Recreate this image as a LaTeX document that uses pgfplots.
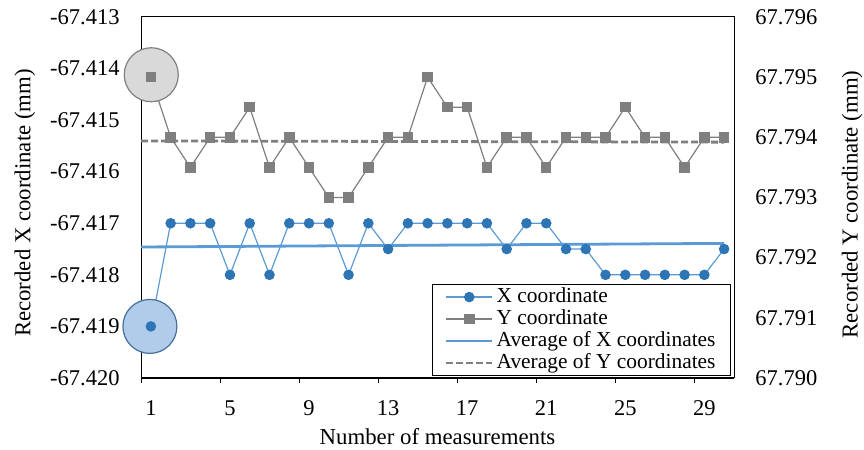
\documentclass[border=0pt]{standalone}
\usepackage{fontspec}
\setmainfont{Liberation Serif}
\usepackage{pgfplots}
\pgfplotsset{compat=1.18}
\usepackage{pgfplotstable}

\definecolor{bmark}{HTML}{2E75B6}
\definecolor{bline}{HTML}{5B9BD5}
\definecolor{gmark}{HTML}{7F7F7F}
\definecolor{gline}{HTML}{7F7F7F}
\definecolor{bcirc}{RGB}{177,204,234}
\definecolor{bcircd}{RGB}{65,113,156}
\definecolor{gcirc}{RGB}{217,217,217}
\definecolor{gcircd}{RGB}{128,128,128}

\pgfplotstableread{
n x
1 -67.419
2 -67.417
3 -67.417
4 -67.417
5 -67.418
6 -67.417
7 -67.418
8 -67.417
9 -67.417
10 -67.417
11 -67.418
12 -67.417
13 -67.4175
14 -67.417
15 -67.417
16 -67.417
17 -67.417
18 -67.417
19 -67.4175
20 -67.417
21 -67.417
22 -67.4175
23 -67.4175
24 -67.418
25 -67.418
26 -67.418
27 -67.418
28 -67.418
29 -67.418
30 -67.4175
}\xdata

\pgfplotstableread{
n y
1 67.7950
2 67.7940
3 67.7935
4 67.7940
5 67.7940
6 67.7945
7 67.7935
8 67.7940
9 67.7935
10 67.7930
11 67.7930
12 67.7935
13 67.7940
14 67.7940
15 67.7950
16 67.7945
17 67.7945
18 67.7935
19 67.7940
20 67.7940
21 67.7935
22 67.7940
23 67.7940
24 67.7940
25 67.7945
26 67.7940
27 67.7940
28 67.7935
29 67.7940
30 67.7940
}\ydata

% exact decimal shift of the y values (avoids FPU precision loss)
\newcommand\shiftval[2]{%
  \pgfmathfloatparsenumber{#1}%
  \pgfmathfloattosci{\pgfmathresult}%
  \edef\pgfmathresult{\fpeval{(\pgfmathresult-(#2))*1000}}%
}

\pgfplotsset{
  common/.style={
    set layers,
    scale only axis, width=296.5pt, height=180.5pt,
    xmin=0.5, xmax=30.5, clip=false,
    scaled y ticks=false,
    ticklabel style={font=\fontsize{11.25}{13}\selectfont},
    label style={font=\fontsize{11.4}{13}\selectfont},
    ytick style={draw=none},
  },
}

\begin{document}
\fontsize{11.25}{13}\selectfont
\begin{tikzpicture}
\begin{axis}[common,
  name=ax1,
  y coord trafo/.code={\shiftval{#1}{-67.420}},
  ymin=-67.420, ymax=-67.413,
  ytick={-67.420,-67.419,-67.418,-67.417,-67.416,-67.415,-67.414,-67.413},
  yticklabels={-67.420,-67.419,-67.418,-67.417,-67.416,-67.415,-67.414,-67.413},
  ytick pos=left,
  yticklabel style={xshift=-4.25pt},
  xtick={0.5,4.5,...,28.5},
  xticklabels={1,5,9,13,17,21,25,29},
  xticklabel style={xshift=4.94pt, yshift=-5pt},
  xtick pos=bottom, tick align=outside, major tick length=2.5pt,
  xtick style={draw=black, line width=0.5pt},
  axis line style={line width=0.5pt},
  xlabel={Number of measurements},
  xlabel style={at={(axis description cs:0.5,-0.1634)}, anchor=center},
  ylabel={Recorded X coordinate (mm)},
  ylabel style={at={(axis description cs:-0.1956,0.4848)}, anchor=center},
]
\draw[line width=1pt] (rel axis cs:0,0) -- (rel axis cs:1,0);
\addplot[on layer=axis background, only marks, mark=*, mark size=13.5pt, mark options={fill=bcirc, draw=bcircd, line width=0.6pt}, forget plot] coordinates {(0.95,-67.419)};
\addplot[bline, line width=1.4pt, forget plot] coordinates {(0.5,-67.41746) (30,-67.41739)};
\addplot[bline, line width=0.6pt, mark=*, mark size=2.33pt, mark options={fill=bmark, draw=bmark}, forget plot] table[x=n,y=x] {\xdata};
\end{axis}
\begin{axis}[common,
  y coord trafo/.code={\shiftval{#1}{67.790}},
  ymin=67.790, ymax=67.796,
  ytick={67.790,67.791,67.792,67.793,67.794,67.795,67.796},
  yticklabels={67.790,67.791,67.792,67.793,67.794,67.795,67.796},
  hide x axis,
  axis y line*=right,
  y axis line style={line width=0.5pt},
  yticklabel style={xshift=6.75pt},
  ylabel={Recorded Y coordinate (mm)},
  ylabel style={at={(axis description cs:1.199,0.4806)}, anchor=center},
  legend image code/.code={\draw[mark repeat=2,mark phase=2,#1] plot coordinates {(0pt,0pt) (11.5pt,0pt) (23pt,0pt)};},
  legend style={at={(0.995,0.2604)}, anchor=north east, draw=black, line width=0.5pt,
    font=\fontsize{10.7}{12}\selectfont, inner xsep=6pt, inner ysep=0.8pt,
    nodes={inner xsep=1.5pt, inner ysep=0.4pt, text height=7.7pt, text depth=2.5pt},
    row sep=0pt},
  legend cell align=left,
]
\addplot[on layer=axis background, only marks, mark=*, mark size=13.5pt, mark options={fill=gcirc, draw=gcircd, line width=0.6pt}, forget plot] coordinates {(1.02,67.79504)};
\addlegendimage{bline, line width=0.6pt, mark=*, mark size=2.33pt, mark options={fill=bmark, draw=bmark}}
\addlegendentry{X coordinate}
\addplot[gline, line width=0.6pt, mark=square*, mark size=2.33pt, mark options={fill=gmark, draw=gmark}] table[x=n,y=y] {\ydata};
\addlegendentry{Y coordinate}
\addlegendimage{bline, line width=1.4pt}
\addlegendentry{Average of X coordinates}
\addplot[gline, line width=1.4pt, dash pattern=on 3.5pt off 1.5pt] coordinates {(0.5,67.79394) (30,67.79392)};
\addlegendentry{Average of Y coordinates}
\end{axis}
\pgfresetboundingbox
\path ([xshift=-70.5pt,yshift=-36pt]ax1.south west) rectangle ([xshift=65pt,yshift=8.5pt]ax1.north east);
\end{tikzpicture}
\end{document}
